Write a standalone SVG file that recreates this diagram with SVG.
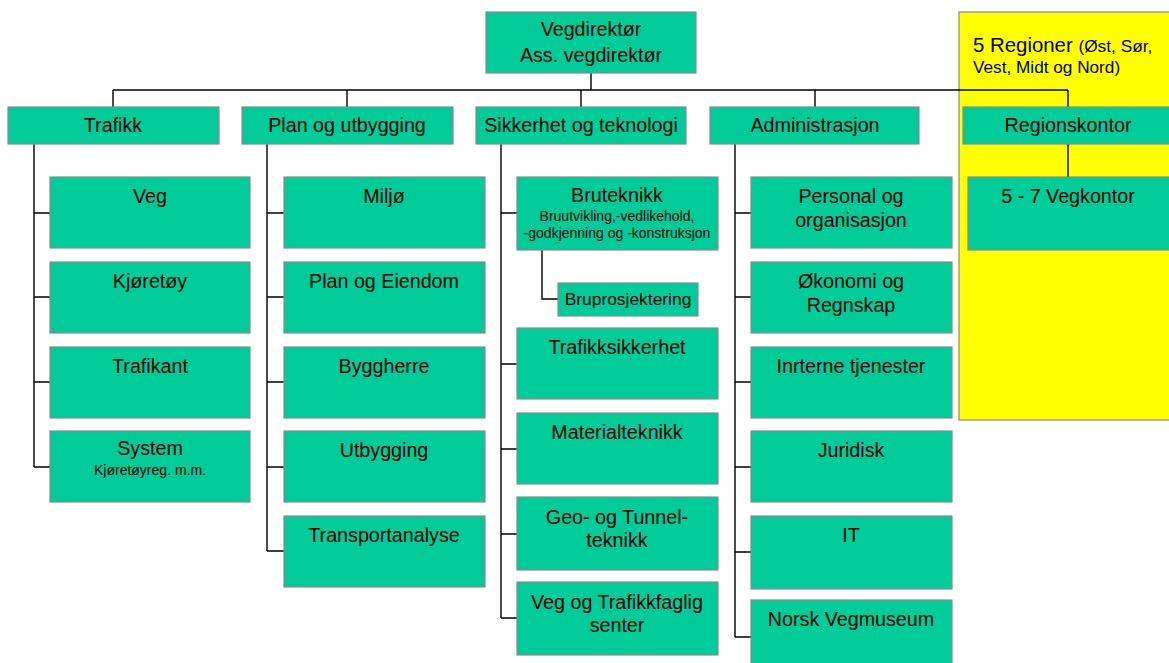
<svg xmlns="http://www.w3.org/2000/svg" width="1169" height="663" viewBox="0 0 1169 663">
<style>
.b{fill:#00CC99;stroke:#8a8a8a;stroke-width:1.2}
.y{fill:#FFFF00;stroke:#8a8a8a;stroke-width:1.2}
text{font-family:"Liberation Sans",Arial,sans-serif;fill:#000;text-anchor:middle}
.t{font-size:19.7px}
.s{font-size:14px}
.c{fill:none;stroke:#000;stroke-width:1.4}
</style>
<rect width="1169" height="663" fill="#fff"/>
<g id="regions"><rect class="y" x="959" y="12" width="215" height="408"/>
<text x="973" y="52" style="text-anchor:start"><tspan style="font-size:20.4px">5 Regioner </tspan><tspan style="font-size:17.3px">(Øst, Sør,</tspan></text>
<text x="973" y="73" style="text-anchor:start;font-size:17.2px">Vest, Midt og Nord)</text></g>
<g id="connectors" class="c">
<path d="M591 73V90M113 90H1068M113 90V107M347 90V107M581 90V107M815 90V107M1068 90V107M1068 144V177"/>
<path d="M34 144V467M34 213H50M34 297H50M34 382H50M34 467H50"/>
<path d="M267 144V551M267 213H284M267 297H284M267 382H284M267 467H284M267 551H284"/>
<path d="M501 144V618M501 213H517M501 364H517M501 449H517M501 534H517M501 618H517M542 250V299H558"/>
<path d="M735 144V637M735 213H751M735 297H751M735 382H751M735 467H751M735 552H751M735 637H751"/>
</g>
<g id="vegdirektor"><rect class="b" x="486" y="12" width="210" height="61"/><text class="t" x="591" y="36">Vegdirektør</text><text class="t" x="591" y="62">Ass. vegdirektør</text></g>
<g id="trafikk"><rect class="b" x="8" y="107" width="211" height="37"/><text class="t" x="113" y="132">Trafikk</text></g>
<g id="plan"><rect class="b" x="242" y="107" width="211" height="37"/><text class="t" x="347" y="132">Plan og utbygging</text></g>
<g id="sikkerhet"><rect class="b" x="476" y="107" width="210" height="37"/><text class="t" x="581" y="132">Sikkerhet og teknologi</text></g>
<g id="administrasjon"><rect class="b" x="710" y="107" width="209" height="37"/><text class="t" x="815" y="132">Administrasjon</text></g>
<g id="regionskontor"><rect class="b" x="963" y="107" width="211" height="37"/><text class="t" x="1068" y="132">Regionskontor</text></g>
<g id="vegkontor"><rect class="b" x="968" y="177" width="206" height="73"/><text class="t" x="1068" y="203">5 - 7 Vegkontor</text></g>

<g id="veg"><rect class="b" x="50" y="177" width="200" height="71"/><text class="t" x="150" y="203">Veg</text></g>
<g id="kjoretoy"><rect class="b" x="50" y="262" width="200" height="71"/><text class="t" x="150" y="288">Kjøretøy</text></g>
<g id="trafikant"><rect class="b" x="50" y="347" width="200" height="71"/><text class="t" x="150" y="373">Trafikant</text></g>
<g id="system"><rect class="b" x="50" y="431" width="200" height="71"/><text class="t" x="150" y="455">System</text><text class="s" x="150" y="475">Kjøretøyreg. m.m.</text></g>

<g id="miljo"><rect class="b" x="284" y="177" width="201" height="71"/><text class="t" x="384" y="203">Miljø</text></g>
<g id="eiendom"><rect class="b" x="284" y="262" width="201" height="71"/><text class="t" x="384" y="288">Plan og Eiendom</text></g>
<g id="byggherre"><rect class="b" x="284" y="347" width="201" height="71"/><text class="t" x="384" y="373">Byggherre</text></g>
<g id="utbygging"><rect class="b" x="284" y="431" width="201" height="71"/><text class="t" x="384" y="457">Utbygging</text></g>
<g id="transport"><rect class="b" x="284" y="516" width="201" height="71"/><text class="t" x="384" y="542">Transportanalyse</text></g>

<g id="bruteknikk"><rect class="b" x="517" y="177" width="201" height="73"/><text class="t" x="617" y="202">Bruteknikk</text><text class="s" x="617" y="221">Bruutvikling,-vedlikehold,</text><text class="s" x="617" y="238">-godkjenning og -konstruksjon</text></g>
<g id="bruprosjektering"><rect class="b" x="558" y="283" width="140" height="33"/><text x="628" y="305" style="font-size:17.4px">Bruprosjektering</text></g>
<g id="trafikksikkerhet"><rect class="b" x="517" y="328" width="201" height="71"/><text class="t" x="617" y="354">Trafikksikkerhet</text></g>
<g id="material"><rect class="b" x="517" y="413" width="201" height="71"/><text class="t" x="617" y="439">Materialteknikk</text></g>
<g id="geo"><rect class="b" x="517" y="497" width="201" height="73"/><text class="t" x="617" y="524">Geo- og Tunnel-</text><text class="t" x="617" y="547">teknikk</text></g>
<g id="vegsenter"><rect class="b" x="517" y="582" width="201" height="73"/><text class="t" x="617" y="609">Veg og Trafikkfaglig</text><text class="t" x="617" y="632">senter</text></g>

<g id="personal"><rect class="b" x="751" y="177" width="201" height="71"/><text class="t" x="851" y="203">Personal og</text><text class="t" x="851" y="227">organisasjon</text></g>
<g id="okonomi"><rect class="b" x="751" y="262" width="201" height="71"/><text class="t" x="851" y="288">Økonomi og</text><text class="t" x="851" y="312">Regnskap</text></g>
<g id="interne"><rect class="b" x="751" y="347" width="201" height="71"/><text class="t" x="851" y="373">Inrterne tjenester</text></g>
<g id="juridisk"><rect class="b" x="751" y="431" width="201" height="71"/><text class="t" x="851" y="457">Juridisk</text></g>
<g id="it"><rect class="b" x="751" y="516" width="201" height="73"/><text class="t" x="851" y="542">IT</text></g>
<g id="museum"><rect class="b" x="751" y="600" width="201" height="73"/><text class="t" x="851" y="626">Norsk Vegmuseum</text></g>
</svg>
